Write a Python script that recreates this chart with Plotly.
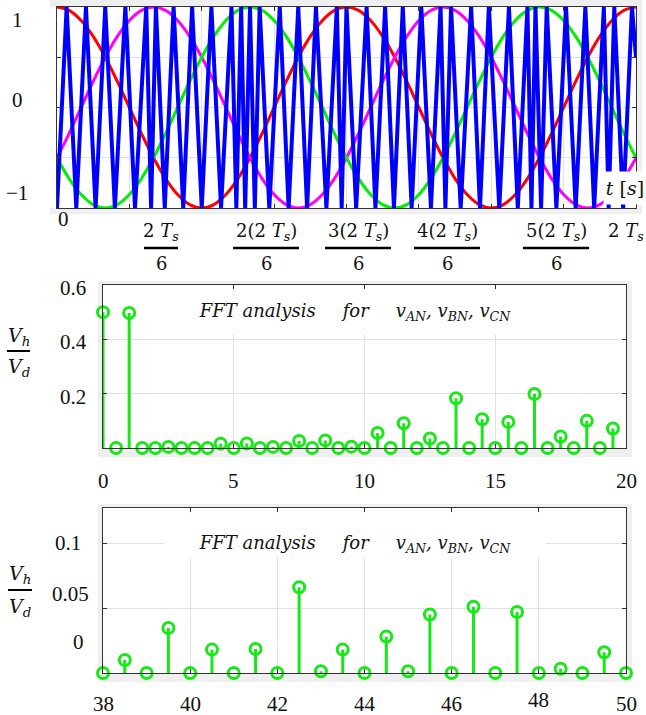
import plotly.graph_objects as go

# ---------------- data ----------------
# top panel: angle samples (deg, 0..720 = 0..2Ts) and the three reference waves
theta = [0, 15, 30, 45, 60, 75, 90, 105, 120, 135, 150, 165, 180, 195, 210, 225, 240, 255,
         270, 285, 300, 315, 330, 345, 360, 375, 390, 405, 420, 435, 450, 465, 480, 495,
         510, 525, 540, 555, 570, 585, 600, 615, 630, 645, 660, 675, 690, 705, 720]
v_red = [1, .966, .866, .707, .5, .259, 0, -.259, -.5, -.707, -.866, -.966, -1, -.966, -.866, -.707,
         -.5, -.259, 0, .259, .5, .707, .866, .966,
         1, .966, .866, .707, .5, .259, 0, -.259, -.5, -.707, -.866, -.966, -1, -.966, -.866, -.707,
         -.5, -.259, 0, .259, .5, .707, .866, .966, 1]
v_magenta = [-.5, -.259, 0, .259, .5, .707, .866, .966, 1, .966, .866, .707, .5, .259, 0, -.259,
             -.5, -.707, -.866, -.966, -1, -.966, -.866, -.707,
             -.5, -.259, 0, .259, .5, .707, .866, .966, 1, .966, .866, .707, .5, .259, 0, -.259,
             -.5, -.707, -.866, -.966, -1, -.966, -.866, -.707, -.5]
v_green = [-.5, -.707, -.866, -.966, -1, -.966, -.866, -.707, -.5, -.259, 0, .259, .5, .707, .866, .966,
           1, .966, .866, .707, .5, .259, 0, -.259,
           -.5, -.707, -.866, -.966, -1, -.966, -.866, -.707, -.5, -.259, 0, .259, .5, .707, .866, .966,
           1, .966, .866, .707, .5, .259, 0, -.259, -.5]
# triangular carrier vertices (including its irregular spots)
carrier_t = [0, 12, 24, 36, 48, 60, 72, 85, 97, 111, 117, 123, 134, 145, 157, 168, 180, 192, 204, 217,
             223, 229, 234, 240, 246, 252, 264, 277, 288, 300, 311, 322, 335, 348, 354, 360, 372, 385,
             396, 408, 419, 430, 441, 453, 465, 477, 483, 490, 502, 515, 526, 537, 550, 562, 573, 585,
             590, 595, 602, 609, 621, 633, 645, 657, 668, 680, 686, 693, 704, 715, 720]
carrier_v = [-1, 1, -1, 1, -1, 1, -1, 1, -1, 1, -1, 1, -1, 1, -1, 1, -1, 1, -1, 1,
             -1, 1, -1, 1, -1, 1, -1, 1, -1, 1, -1, 1, -1, 1, -1, 1, -1, 1,
             -1, 1, -1, 1, -1, 1, -1, 1, -1, 1, -1, 1, -1, 1, -1, 1, -1, 1,
             -1, 1, -1, 1, -1, 1, -1, 1, -1, 1, -1, 1, -1, 1, 0.5]

# FFT, low harmonics
h_low = [0, 0.5, 1, 1.5, 2, 2.5, 3, 3.5, 4, 4.5, 5, 5.5, 6, 6.5, 7, 7.5, 8, 8.5, 9, 9.5,
         10, 10.5, 11, 11.5, 12, 12.5, 13, 13.5, 14, 14.5, 15, 15.5, 16, 16.5, 17, 17.5, 18, 18.5, 19, 19.5]
mag_low = [0.5, 0, 0.497, 0, 0, 0.004, 0, 0, 0, 0.016, 0, 0.017, 0, 0.004, 0, 0.026, 0, 0.028, 0, 0.005,
           0, 0.055, 0, 0.091, 0, 0.035, 0, 0.183, 0, 0.106, 0, 0.096, 0, 0.199, 0, 0.042, 0, 0.100, 0, 0.072]
# FFT, high harmonics
h_high = [38, 38.5, 39, 39.5, 40, 40.5, 41, 41.5, 42, 42.5, 43, 43.5, 44, 44.5, 45, 45.5, 46, 46.5,
          47, 47.5, 48, 48.5, 49, 49.5, 50]
mag_high = [0, 0.010, 0, 0.0346, 0, 0.018, 0, 0.0185, 0, 0.066, 0.0013, 0.018, 0, 0.028, 0.0013, 0.045,
            0, 0.051, 0, 0.047, 0, 0.0033, 0, 0.016, 0]

# tick labels
top_y_text = ["1", "0", "\u22121"]
top_x_num = ["2 <i>T<sub>s</sub></i>", "2(2 <i>T<sub>s</sub></i>)", "3(2 <i>T<sub>s</sub></i>)",
             "4(2 <i>T<sub>s</sub></i>)", "5(2 <i>T<sub>s</sub></i>)"]
top_x_den = ["6", "6", "6", "6", "6"]
mid_y_vals = [0.6, 0.4, 0.2]
mid_x_vals = [0, 5, 10, 15, 20]
bot_y_text = ["0.1", "0.05", "0"]
bot_x_vals = [38, 40, 42, 44, 46, 48, 50]

# ---------------- layout helpers ----------------
W, H = 646, 715
def px(x):
    return x / W
def py(y):
    return 1 - y / H

RED, MAG, GRN, BLU = "#ff0000", "#ff00ff", "#00f000", "#0000ff"
STEM = "#18e818"
GRID = "#e2e2e2"
FRAME = "#333333"
GRAYBG = "#efefef"
SERIF = "Liberation Serif"
MATH = "DejaVu Serif"

fig = go.Figure()

# top panel traces
fig.add_trace(go.Scatter(x=theta, y=v_red, mode="lines", line=dict(color=RED, width=3, shape="spline"),
                         xaxis="x", yaxis="y", hoverinfo="skip"))
fig.add_trace(go.Scatter(x=theta, y=v_magenta, mode="lines", line=dict(color=MAG, width=3, shape="spline"),
                         xaxis="x", yaxis="y", hoverinfo="skip"))
fig.add_trace(go.Scatter(x=theta, y=v_green, mode="lines", line=dict(color=GRN, width=3, shape="spline"),
                         xaxis="x", yaxis="y", hoverinfo="skip"))
fig.add_trace(go.Scatter(x=carrier_t, y=carrier_v, mode="lines", line=dict(color=BLU, width=4),
                         xaxis="x", yaxis="y", hoverinfo="skip", cliponaxis=True))

def stem_trace(xv, yv, xa, ya):
    return go.Scatter(
        x=xv, y=yv, mode="markers", xaxis=xa, yaxis=ya, cliponaxis=False, hoverinfo="skip",
        marker=dict(symbol="circle-open", size=11, color=STEM, line=dict(width=3, color=STEM)),
        error_y=dict(type="data", symmetric=False, array=[0] * len(yv), arrayminus=yv,
                     thickness=3, width=0, color=STEM),
    )

fig.add_trace(stem_trace(h_low, mag_low, "x2", "y2"))
fig.add_trace(stem_trace(h_high, mag_high, "x3", "y3"))

# plot-area rectangles in pixels
TOP = dict(l=57, r=636, t=7, b=208)
MID = dict(l=103, r=626, t=285, b=448)
BOT = dict(l=103, r=626, t=508, b=673)

def axis_common():
    return dict(showgrid=True, gridcolor=GRID, gridwidth=1, zeroline=False, showline=True,
                linecolor=FRAME, linewidth=1, mirror="ticks", ticks="inside", ticklen=4,
                tickcolor=FRAME, showticklabels=False)

fig.update_layout(
    width=W, height=H, margin=dict(l=0, r=0, t=0, b=0),
    paper_bgcolor="white", plot_bgcolor="white", showlegend=False,
    xaxis=dict(domain=[px(TOP["l"]), px(TOP["r"])], range=[0, 720],
               tickvals=[90, 180, 270, 360, 450, 540, 630], anchor="y", **axis_common()),
    yaxis=dict(domain=[py(TOP["b"]), py(TOP["t"])], range=[-1, 1],
               tickvals=[-0.5, 0, 0.5], anchor="x", **axis_common()),
    xaxis2=dict(domain=[px(MID["l"]), px(MID["r"])], range=[0, 20],
                tickvals=[5, 10, 15], anchor="y2", **axis_common()),
    yaxis2=dict(domain=[py(MID["b"]), py(MID["t"])], range=[0, 0.6],
                tickvals=[0.2, 0.4], anchor="x2", **axis_common()),
    xaxis3=dict(domain=[px(BOT["l"]), px(BOT["r"])], range=[38, 50],
                tickvals=[40, 42, 44, 46, 48], anchor="y3", **axis_common()),
    yaxis3=dict(domain=[py(BOT["b"]), py(BOT["t"])], range=[0, 0.127],
                tickvals=[0.05, 0.1], anchor="x3", **axis_common()),
)

shapes = []
def gray(x0, y0, x1, y1):
    shapes.append(dict(type="rect", xref="paper", yref="paper", x0=px(x0), x1=px(x1), y0=py(y1), y1=py(y0),
                       fillcolor=GRAYBG, line=dict(width=0), layer="below"))

# light gray figure frame bands
gray(50, 0, 642, 7)
gray(50, 208, 642, 214)
gray(636, 0, 642, 214)
for P in (MID, BOT):
    gray(98, P["t"] - 4, 632, P["t"])
    gray(98, P["b"], 632, P["b"] + 9)
    gray(98, P["t"] - 4, P["l"], P["b"] + 9)
    gray(P["r"], P["t"] - 4, 632, P["b"] + 9)

def hline(x0, x1, y, w=2.2):
    shapes.append(dict(type="line", xref="paper", yref="paper", x0=px(x0), x1=px(x1), y0=py(y), y1=py(y),
                       line=dict(color="black", width=w)))

annotations = []
def text(x, y, s, size=21, xref="paper", yref="paper", family=SERIF, **kw):
    annotations.append(dict(x=x, y=y, xref=xref, yref=yref, text=s, showarrow=False,
                            font=dict(family=family, size=size, color="#111111"),
                            xanchor="center", yanchor="middle", **kw))

# top panel y labels
for s, yy in zip(top_y_text, [20, 100, 193]):
    text(px(17), py(yy), s)
# top panel x labels (fractions)
text(px(63), py(219), "0")
num_centers = [161, 266, 358, 447, 556]
bar_halfw = [17, 33, 33, 33, 33]
for s, d, cx, hw in zip(top_x_num, top_x_den, num_centers, bar_halfw):
    text(px(cx), py(232), s, size=18, family=MATH)
    hline(cx - hw, cx + hw, 248, w=2.5)
    text(px(cx), py(263), d, size=18, family=MATH)
text(px(626), py(232), "2 <i>T<sub>s</sub></i>", size=18, family=MATH)
# t [s] label
annotations.append(dict(x=px(625), y=py(188), xref="paper", yref="paper", text="<i>t</i> [<i>s</i>]",
                        showarrow=False, font=dict(family=MATH, size=19, color="#111111"),
                        bgcolor="white", width=40, height=30, xanchor="center", yanchor="middle"))

# middle panel labels
for v in mid_y_vals:
    text(px(73), v, f"{v:.1f}", yref="y2", yshift=-3)
for v in mid_x_vals:
    text(v, py(481), str(v), xref="x2")
text(px(19), py(336), "<i>V<sub>h</sub></i>", size=19, family=MATH)
hline(7, 30, 351, w=2)
text(px(19), py(368), "<i>V<sub>d</sub></i>", size=19, family=MATH)

# bottom panel labels
for s, yy, xx in zip(bot_y_text, [543, 594, 642], [68, 70, 78]):
    text(px(xx), py(yy), s)
for v in bot_x_vals:
    text(v, py(700 if v == 48 else 704), str(v), xref="x3")
text(px(20), py(574), "<i>V<sub>h</sub></i>", size=19, family=MATH)
hline(8, 32, 590, w=2)
text(px(20), py(607), "<i>V<sub>d</sub></i>", size=19, family=MATH)

# FFT titles with white boxes
title = ("<i>FFT analysis\u2003\u2002for\u2003\u2002v<sub>AN</sub>, v<sub>BN</sub>, v<sub>CN</sub></i>")
annotations.append(dict(x=px(355), y=py(312), xref="paper", yref="paper", text=title, showarrow=False,
                        font=dict(family=MATH, size=18, color="#111111"), bgcolor="white",
                        width=378, height=42, xanchor="center", yanchor="middle"))
annotations.append(dict(x=px(355), y=py(535), xref="paper", yref="paper", text=title, showarrow=False,
                        font=dict(family=MATH, size=18, color="#111111"), bgcolor="white",
                        width=378, height=42, valign="bottom", xanchor="center", yanchor="middle"))

fig.update_layout(shapes=shapes, annotations=annotations)
fig.write_html("out.html", config={"displayModeBar": False, "staticPlot": True},
               post_script="document.body.style.margin='0';document.body.style.overflow='hidden';")
